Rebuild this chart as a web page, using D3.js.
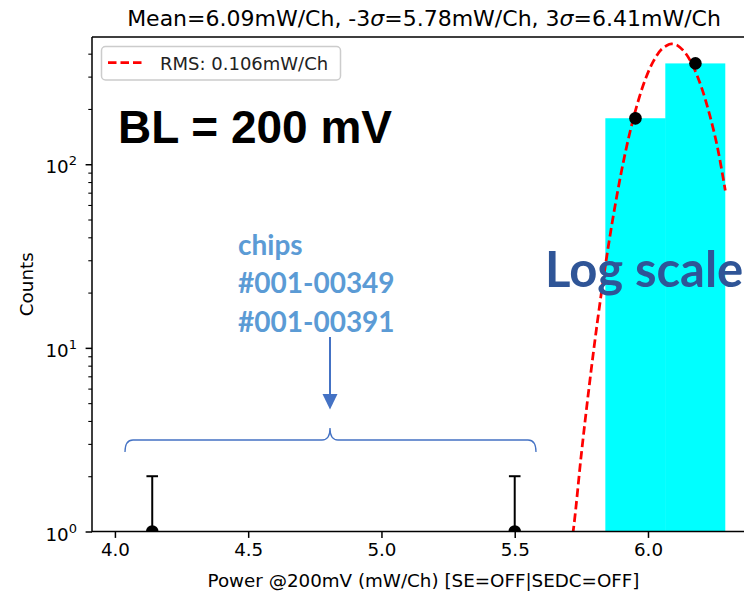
<!DOCTYPE html>
<html>
<head>
<meta charset="utf-8">
<script src="https://cdn.jsdelivr.net/npm/d3@7"></script>
<style>
  body { margin: 0; background: #fff; }
  svg { display: block; }
</style>
</head>
<body>
<div id="viz"></div>
<script>
//-------The "Data"-----------
var binEdges = [5.84, 6.065, 6.29];
var binCounts = [178, 354];
var pointX = [4.14, 5.50, 5.953, 6.178];
var pointCounts = [1, 1, 178, 354];
// gaussian fit
var fitX = [5.69, 5.72, 5.75, 5.78, 5.81, 5.84, 5.87, 5.90, 5.93, 5.96, 5.99, 6.02, 6.05, 6.08, 6.09, 6.11, 6.14, 6.17, 6.20, 6.23, 6.26, 6.29];
var fitY = [0.52, 1.02, 2.64, 6.28, 13.8, 28.0, 52.4, 90.7, 144.7, 213, 290, 363, 421, 450, 452, 444, 404, 340, 264, 189, 125, 72];
var xTicks = [4.0, 4.5, 5.0, 5.5, 6.0];
var yMajor = [1, 10, 100];
var yExp = ["0", "1", "2"];
var yMinor = [2, 3, 4, 5, 6, 7, 8, 9, 20, 30, 40, 50, 60, 70, 80, 90, 200, 300, 400];
var legendLabel = "RMS: 0.106mW/Ch";
var chipLines = ["chips", "#001-00349", "#001-00391"];

//---------------------------------
var width = 744,
    height = 596;
var plotLeft = 92, plotRight = 755, plotTop = 37, plotBottom = 531.5;
var font = "'DejaVu Sans', sans-serif";

var svg = d3.select("#viz")
  .append("svg")
    .attr("width", width)
    .attr("height", height);

svg.append("defs").append("clipPath").attr("id", "plotclip")
  .append("rect")
    .attr("x", plotLeft).attr("y", plotTop)
    .attr("width", plotRight - plotLeft).attr("height", plotBottom - plotTop);

//------Scales-----------
var xScale = d3.scaleLinear().domain([3.914, 6.4015]).range([plotLeft, plotRight]);
var yScale = d3.scaleLog().domain([1, 493]).range([plotBottom, plotTop]);

var plot = svg.append("g").attr("clip-path", "url(#plotclip)");

//------Histogram bars--------------------
plot.selectAll("rect.bar")
  .data(binCounts)
  .enter()
  .append("rect")
    .attr("class", "bar")
    .attr("x", (d, i) => xScale(binEdges[i]))
    .attr("width", (d, i) => xScale(binEdges[i + 1]) - xScale(binEdges[i]) + (i == 0 ? 0.5 : 0))
    .attr("y", (d) => yScale(d))
    .attr("height", (d) => plotBottom - yScale(d))
    .style("fill", "#00ffff");

//------Fit curve--------------------
var line = d3.line()
    .x((d) => xScale(d[0]))
    .y((d) => yScale(d[1]))
    .curve(d3.curveCatmullRom);

plot.append("path")
    .datum(fitX.map((x, i) => [x, fitY[i]]))
    .attr("d", line)
    .style("fill", "none")
    .style("stroke", "#ff0000")
    .style("stroke-width", 2.75)
    .style("stroke-dasharray", "8.5,4");

//------Points with error bars--------------------
var pts = plot.append("g").selectAll("g")
  .data(pointCounts)
  .enter()
  .append("g");

pts.append("line")
    .attr("x1", (d, i) => xScale(pointX[i]))
    .attr("x2", (d, i) => xScale(pointX[i]))
    .attr("y1", (d) => d - Math.sqrt(d) > 0 ? yScale(d - Math.sqrt(d)) : plotBottom + 5)
    .attr("y2", (d) => yScale(d + Math.sqrt(d)))
    .style("stroke", "#000")
    .style("stroke-width", 2);

// caps only show where the bar sticks out of the marker
pts.filter((d) => d - Math.sqrt(d) <= 0)
  .append("line")
    .attr("x1", (d, i) => xScale(pointX[i]) - 5.8)
    .attr("x2", (d, i) => xScale(pointX[i]) + 5.8)
    .attr("y1", (d) => yScale(d + Math.sqrt(d)))
    .attr("y2", (d) => yScale(d + Math.sqrt(d)))
    .style("stroke", "#000")
    .style("stroke-width", 2);

pts.append("circle")
    .attr("cx", (d, i) => xScale(pointX[i]))
    .attr("cy", (d) => yScale(d))
    .attr("r", 6.3)
    .style("fill", "#000");

//------Spines & axes-----------
svg.append("path")
    .attr("d", "M" + plotLeft + "," + plotTop + "V" + plotBottom + "H" + (plotRight + 10) + "M" + plotLeft + "," + plotTop + "H" + (plotRight + 10))
    .style("fill", "none")
    .style("stroke", "#000")
    .style("stroke-width", 1.5);

var xAxis = d3.axisBottom(xScale)
    .tickValues(xTicks)
    .tickFormat(d3.format(".1f"))
    .tickSize(6.4)
    .tickPadding(5);

var gXAxis = svg.append("g")
    .attr("transform", "translate(0," + plotBottom + ")")
    .call(xAxis);
gXAxis.select(".domain").remove();
gXAxis.selectAll("line").style("stroke-width", 1.5);
gXAxis.selectAll("text")
    .style("font-family", font)
    .style("font-size", "18.3px")
    .style("fill", "#000");

var yAxisMinor = d3.axisLeft(yScale).tickValues(yMinor).tickSize(3.7).tickFormat("");
var gYMinor = svg.append("g").attr("transform", "translate(" + plotLeft + ",0)").call(yAxisMinor);
gYMinor.select(".domain").remove();
gYMinor.selectAll("line").style("stroke-width", 1.1);

var yAxis = d3.axisLeft(yScale).tickValues(yMajor).tickSize(6.4).tickFormat("");
var gYAxis = svg.append("g").attr("transform", "translate(" + plotLeft + ",0)").call(yAxis);
gYAxis.select(".domain").remove();
gYAxis.selectAll("line").style("stroke-width", 1.5);

var yLabels = svg.append("g").selectAll("text")
  .data(yMajor)
  .enter()
  .append("text")
    .attr("x", 77)
    .attr("y", (d) => yScale(d) + 9)
    .attr("text-anchor", "end")
    .style("font-family", font)
    .style("font-size", "18.3px");
yLabels.append("tspan").text("10");
yLabels.append("tspan")
    .attr("dy", -8)
    .style("font-size", "13px")
    .text((d, i) => yExp[i]);

//------Labels-----------
svg.append("text")
    .attr("x", 423.5)
    .attr("y", 587)
    .attr("text-anchor", "middle")
    .style("font-family", font)
    .style("font-size", "18.3px")
    .text("Power @200mV (mW/Ch) [SE=OFF|SEDC=OFF]");

svg.append("text")
    .attr("transform", "translate(33," + (plotTop + plotBottom) / 2 + ") rotate(-90)")
    .attr("text-anchor", "middle")
    .style("font-family", font)
    .style("font-size", "18.3px")
    .text("Counts");

var title = svg.append("text")
    .attr("x", 424)
    .attr("y", 26)
    .attr("text-anchor", "middle")
    .style("font-family", font)
    .style("font-size", "22px");
title.append("tspan").text("Mean=6.09mW/Ch, -3");
title.append("tspan").style("font-style", "italic").text("σ");
title.append("tspan").text("=5.78mW/Ch, 3");
title.append("tspan").style("font-style", "italic").text("σ");
title.append("tspan").text("=6.41mW/Ch");

//------Legend-----------
var legend = svg.append("g");
legend.append("rect")
    .attr("x", 101.5).attr("y", 46.5)
    .attr("width", 239).attr("height", 33.5)
    .attr("rx", 4)
    .style("fill", "#fff")
    .style("fill-opacity", 0.8)
    .style("stroke", "#cccccc")
    .style("stroke-width", 1.5);
legend.append("line")
    .attr("x1", 108).attr("x2", 145)
    .attr("y1", 62.5).attr("y2", 62.5)
    .style("stroke", "#ff0000")
    .style("stroke-width", 2.75)
    .style("stroke-dasharray", "8.5,4");
legend.append("text")
    .attr("x", 160).attr("y", 69.5)
    .style("font-family", font)
    .style("font-size", "18px")
    .style("fill", "#222")
    .text(legendLabel);

//------Annotations-----------
svg.append("text")
    .attr("x", 118).attr("y", 142.7)
    .style("font-family", "'Liberation Sans', Arial, sans-serif")
    .style("font-weight", "bold")
    .style("font-size", "46px")
    .text("BL = 200 mV");

svg.append("text")
    .attr("x", 545).attr("y", 287)
    .style("font-family", "Lato, sans-serif")
    .style("font-weight", "bold")
    .style("font-size", "49px")
    .style("fill", "#2f5597")
    .text("Log scale");

svg.append("g").selectAll("text")
  .data(chipLines)
  .enter()
  .append("text")
    .attr("x", 238)
    .attr("y", (d, i) => 255 + i * 38.4)
    .style("font-family", "Lato, sans-serif")
    .style("font-weight", "bold")
    .style("font-size", "28px")
    .style("fill", "#5b9bd5")
    .text((d) => d);

svg.append("line")
    .attr("x1", 330).attr("x2", 330)
    .attr("y1", 337).attr("y2", 396)
    .style("stroke", "#4472c4")
    .style("stroke-width", 2);
svg.append("path")
    .attr("d", "M322.5,394L337.5,394L330,409.5Z")
    .style("fill", "#4472c4");

svg.append("path")
    .attr("d", "M125,452C125,444 127,440 133,440L322,440C327,440 330,437 330,428C330,437 333,440 338,440L528,440C534,440 536,444 536,452")
    .style("fill", "none")
    .style("stroke", "#4472c4")
    .style("stroke-width", 1.3);
</script>
</body>
</html>
